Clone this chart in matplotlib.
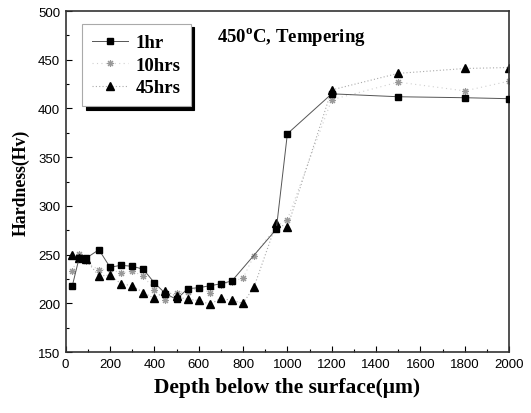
import matplotlib
matplotlib.use("Agg")
import matplotlib.pyplot as plt
from matplotlib.ticker import MultipleLocator

# depth (um) and hardness (Hv)
depth_1hr = [30, 60, 90, 150, 200, 250, 300, 350, 400, 450, 500, 550, 600, 650,
             700, 750, 950, 1000, 1200, 1500, 1800, 2000]
hv_1hr = [218, 246, 246, 255, 237, 239, 238, 235, 221, 210, 204, 215, 216, 218,
          220, 223, 276, 374, 415, 412, 411, 410]

depth_10hrs = [30, 60, 90, 150, 200, 250, 300, 350, 400, 450, 500, 550, 600, 650,
               700, 750, 800, 850, 950, 1000, 1200, 1500, 1800, 2000]
hv_10hrs = [233, 251, 243, 234, 235, 231, 233, 228, 214, 203, 211, 212, 216, 211,
            219, 222, 226, 249, 279, 286, 409, 427, 418, 428]

depth_45hrs = [30, 60, 90, 150, 200, 250, 300, 350, 400, 450, 500, 550, 600, 650,
               700, 750, 800, 850, 950, 1000, 1200, 1500, 1800, 2000]
hv_45hrs = [250, 246, 245, 228, 229, 220, 218, 211, 205, 213, 207, 204, 203, 199,
            205, 203, 200, 217, 282, 278, 419, 436, 441, 442]

serif = ["Liberation Serif", "DejaVu Serif"]
sans = ["Liberation Sans", "DejaVu Sans"]
plt.rcParams["mathtext.fontset"] = "custom"
plt.rcParams["mathtext.rm"] = "Liberation Serif"
plt.rcParams["mathtext.bf"] = "Liberation Serif:bold"

fig = plt.figure(figsize=(5.31, 4.14), dpi=100)
ax = fig.add_axes([0.1237, 0.1473, 0.8350, 0.8237])

ax.plot(depth_1hr, hv_1hr, color="#555555", lw=0.7, ls="-",
        marker="s", ms=5, mfc="black", mec="black", label="1hr", zorder=3)
ax.plot(depth_10hrs, hv_10hrs, color="#d0d0d0", lw=0.8, ls=(0, (1, 3)),
        marker=(8, 2, 0), ms=5, mfc="#999999", mec="#999999", mew=0.8,
        label="10hrs", zorder=2)
ax.plot(depth_45hrs, hv_45hrs, color="#aaaaaa", lw=0.8, ls=(0, (1, 2)),
        marker="^", ms=6, mfc="black", mec="black", label="45hrs", zorder=2)

ax.set_xlim(0, 2000)
ax.set_ylim(150, 500)
ax.xaxis.set_major_locator(MultipleLocator(200))
ax.xaxis.set_minor_locator(MultipleLocator(100))
ax.yaxis.set_major_locator(MultipleLocator(50))
ax.yaxis.set_minor_locator(MultipleLocator(25))
ax.tick_params(which="both", direction="in", top=False, right=False)
ax.tick_params(which="major", length=4, width=0.8, labelsize=9.5, pad=4)
ax.tick_params(which="minor", length=2.5, width=0.8)
for lab in ax.get_xticklabels() + ax.get_yticklabels():
    lab.set_family(sans)
for s in ax.spines.values():
    s.set_linewidth(1.2)
    s.set_color("#333333")

ax.set_xlabel("Depth below the surface(\u03bcm)", fontsize=15.5, fontweight="bold",
              family=serif, labelpad=5)
ax.set_ylabel("Hardness(Hv)", fontsize=12.8, fontweight="bold", family=serif,
              labelpad=6)

ax.text(0.341, 0.927, r"450$^{\mathbf{o}}$C, Tempering", transform=ax.transAxes,
        fontsize=13.5, fontweight="bold", family=serif, va="center")

leg = ax.legend(loc="upper left", bbox_to_anchor=(0.037, 0.962), borderaxespad=0,
                frameon=True,
                shadow={"color": "black", "alpha": 1, "ox": 2.5, "oy": -2.5},
                fancybox=False, handlelength=1.9, handletextpad=0.4,
                borderpad=0.55, labelspacing=0.28,
                prop={"family": serif, "weight": "bold", "size": 13.5})
leg.get_frame().set_edgecolor("#aaaaaa")
leg.get_frame().set_linewidth(0.8)
leg.get_frame().set_alpha(1)

fig.savefig("out.png", dpi=100)
